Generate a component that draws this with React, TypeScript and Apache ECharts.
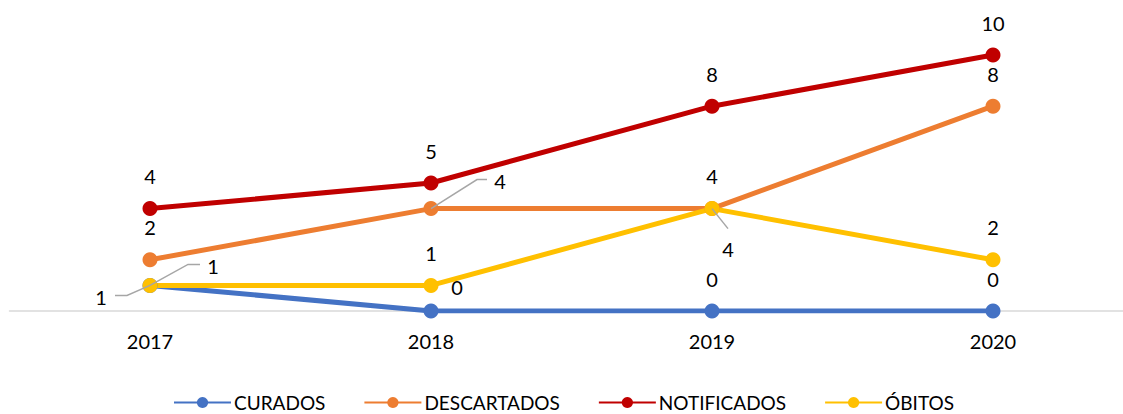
import React, { useEffect, useRef } from "react";
import * as echarts from "echarts";

const years = ["2017", "2018", "2019", "2020"];
const curados = [1, 0, 0, 0];
const descartados = [2, 4, 4, 8];
const notificados = [4, 5, 8, 10];
const obitos = [1, 1, 4, 2];

const FONT = "Lato";
const COLORS = { curados: "#4472C4", descartados: "#ED7D31", notificados: "#C00000", obitos: "#FFC000" };

// label offsets (pixels) for labels moved away from default position
const moved: Record<string, { i: number; off: [number, number]; guide: [number, number][] }[]> = {
  curados: [
    { i: 0, off: [-49, 12], guide: [[0, 0], [-23, 10], [-35, 10]] },
    { i: 1, off: [26, -24], guide: [] },
  ],
  descartados: [{ i: 1, off: [69, -28], guide: [[0, 0], [46, -29], [56, -29]] }],
  notificados: [],
  obitos: [
    { i: 0, off: [63, -19], guide: [[0, 0], [38, -21], [50, -21]] },
    { i: 2, off: [16, 40], guide: [[0, 0], [16, 20]] },
  ],
};

function buildData(key: string, values: number[]) {
  return values.map((v, i) => {
    const m = moved[key].find((x) => x.i === i);
    if (!m) return v;
    return { value: v, label: { position: "inside", offset: m.off } };
  });
}

export default function App() {
  const ref = useRef<HTMLDivElement>(null);
  useEffect(() => {
    if (!ref.current) return;
    const chart = echarts.init(ref.current, null, { renderer: "svg" });
    const mk = (name: string, key: string, values: number[], color: string) => ({
      name,
      type: "line",
      data: buildData(key, values),
      symbol: "circle",
      symbolSize: 15,
      color,
      lineStyle: { width: 5, color },
      itemStyle: { color },
      label: {
        show: true,
        position: "top",
        distance: 15,
        fontFamily: FONT,
        fontSize: 20,
        color: "#000",
      },
    });
    chart.setOption({
      animation: false,
      grid: { left: 9.5, top: 55, width: 1124, height: 256, containLabel: false },
      xAxis: {
        type: "category",
        data: years,
        boundaryGap: true,
        axisLine: { lineStyle: { color: "#d9d9d9", width: 1.5 } },
        axisTick: { show: false },
        axisLabel: { fontFamily: FONT, fontSize: 20, color: "#000", margin: 20 },
      },
      yAxis: { type: "value", min: 0, max: 10, show: false, splitLine: { show: false } },
      legend: {
        top: 393,
        left: 173,
        padding: 0,
        itemWidth: 57,
        itemHeight: 14,
        itemGap: 38,
        textStyle: { fontFamily: FONT, fontSize: 19, lineHeight: 18, color: "#000", padding: [0, 0, 0, -2] },
        data: ["CURADOS", "DESCARTADOS", "NOTIFICADOS", "ÓBITOS"],
      },
      series: [
        mk("CURADOS", "curados", curados, COLORS.curados),
        mk("DESCARTADOS", "descartados", descartados, COLORS.descartados),
        mk("NOTIFICADOS", "notificados", notificados, COLORS.notificados),
        mk("ÓBITOS", "obitos", obitos, COLORS.obitos),
      ],
    });
    const src: Record<string, number[]> = { curados, descartados, notificados, obitos };
    const graphics: any[] = [];
    Object.keys(moved).forEach((key) => {
      moved[key].forEach((m) => {
        if (m.guide.length < 2) return;
        const p = chart.convertToPixel({ gridIndex: 0 }, [m.i, src[key][m.i]]) as number[];
        graphics.push({
          type: "polyline",
          z: 100,
          shape: { points: m.guide.map(([dx, dy]) => [p[0] + dx, p[1] + dy]) },
          style: { stroke: "#a6a6a6", lineWidth: 1.5, fill: "none" },
        });
      });
    });
    chart.setOption({ graphic: graphics });
    return () => chart.dispose();
  }, []);
  return (
    <div style={{ position: "absolute", left: 0, top: 0, width: 1123, height: 414, overflow: "hidden" }}>
      <div ref={ref} style={{ width: 1140, height: 414 }} />
    </div>
  );
}
